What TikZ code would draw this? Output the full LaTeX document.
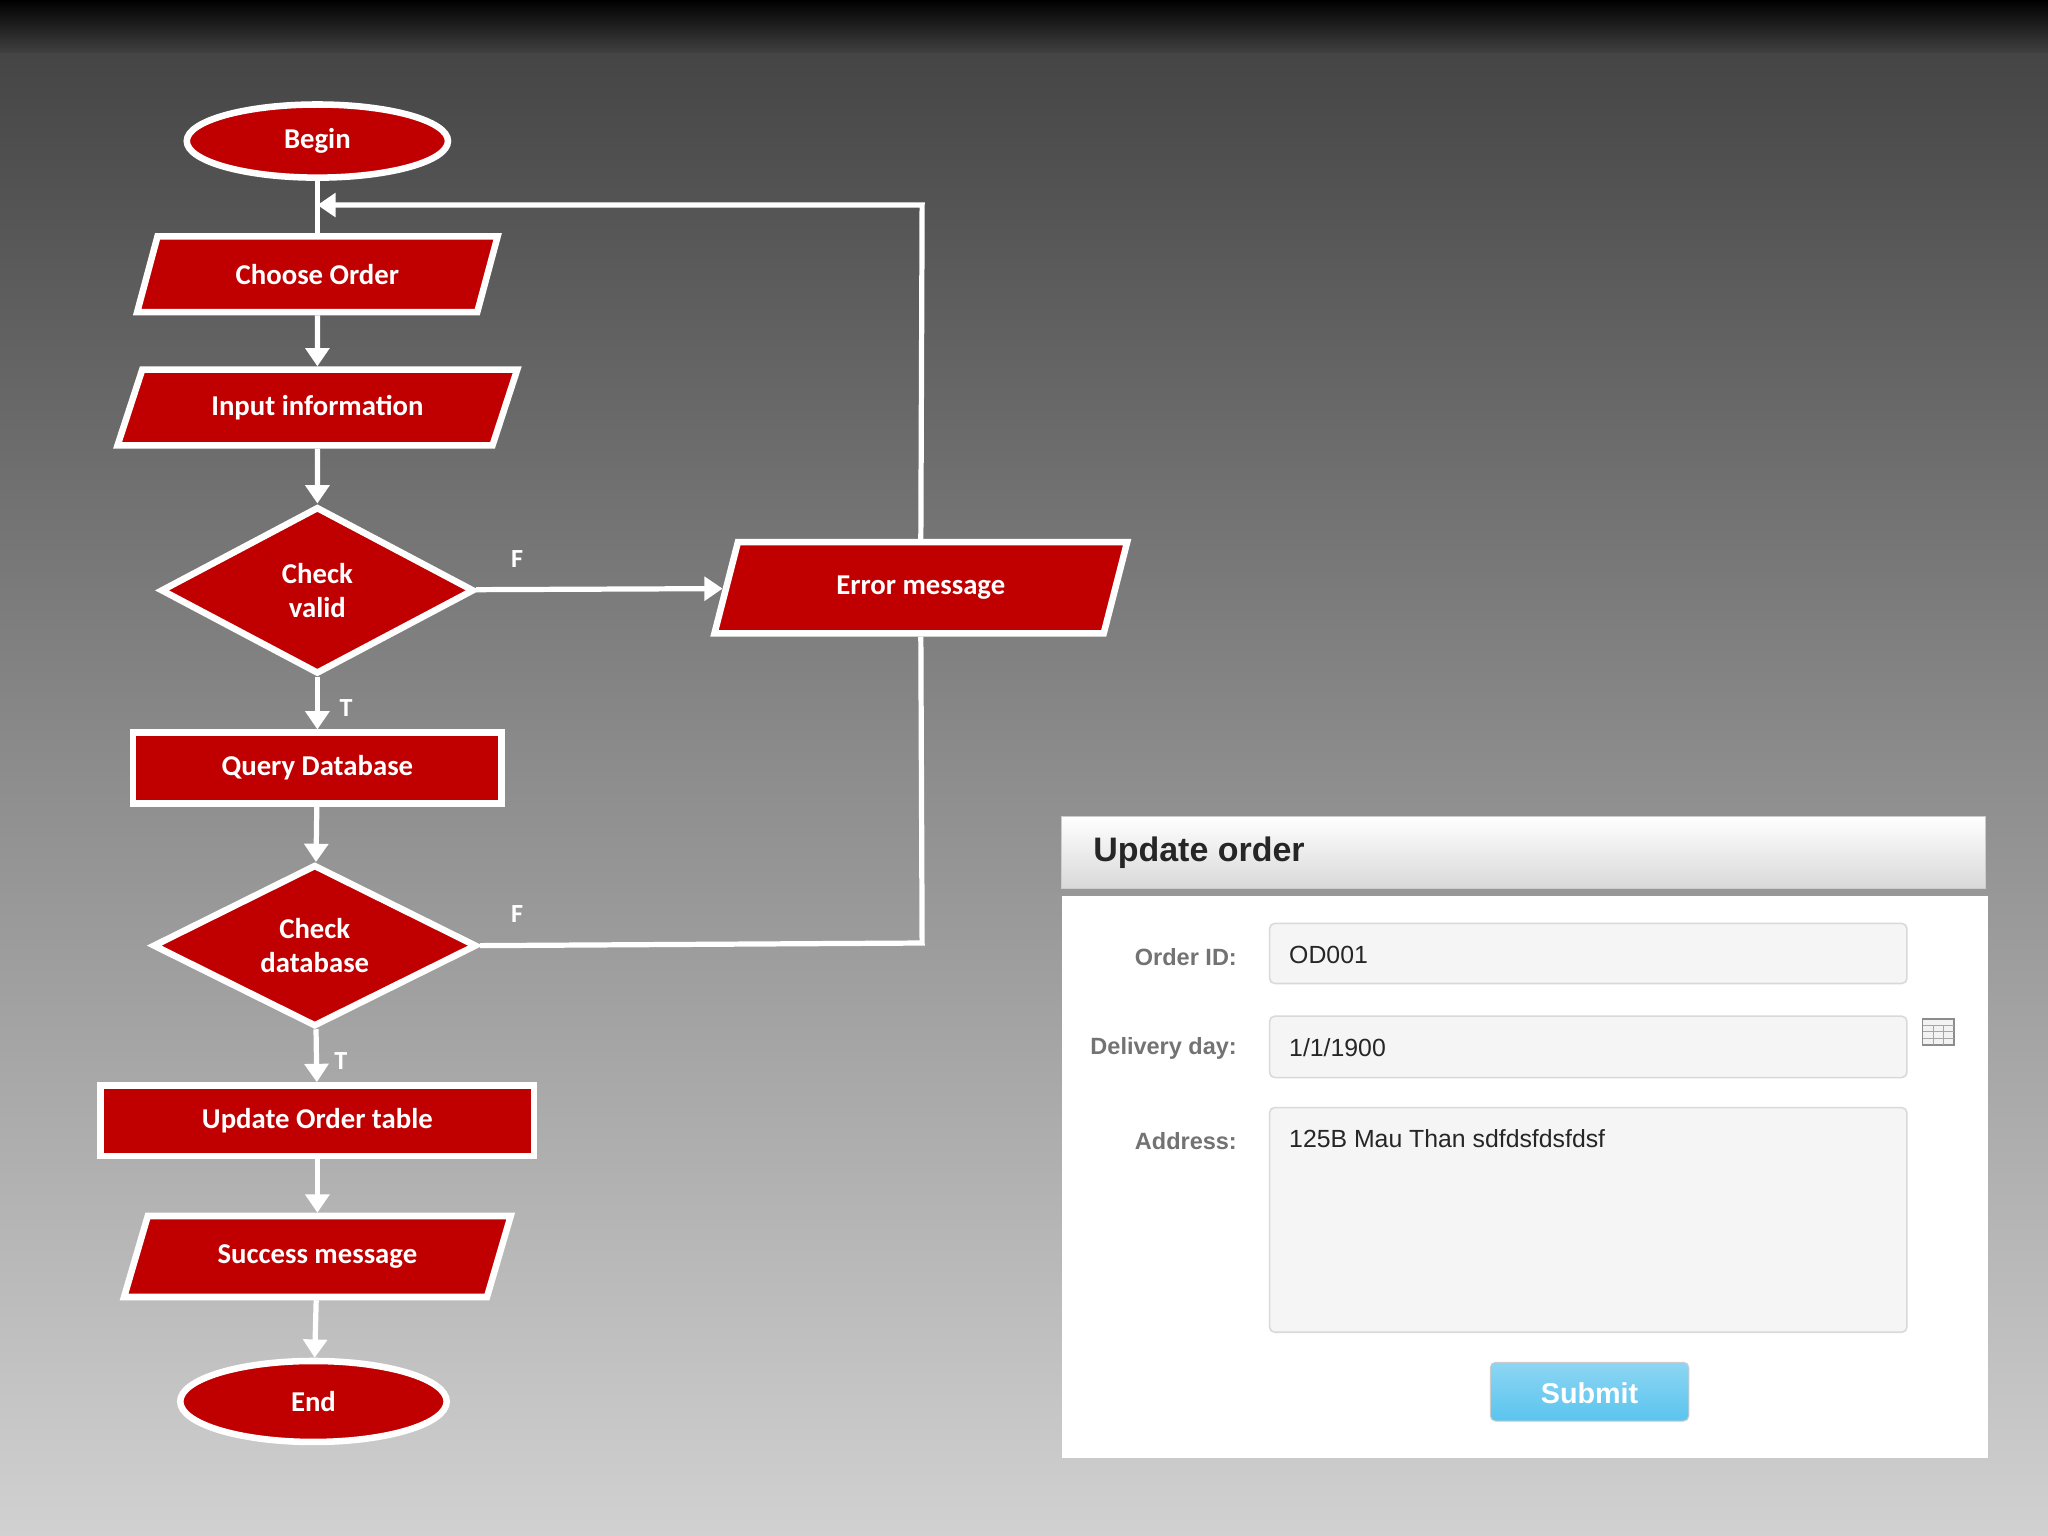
\documentclass[tikz,border=0pt]{standalone}
\usepackage{fontspec}
\setmainfont{Carlito}
\newfontfamily\formfont{Liberation Sans}
\usetikzlibrary{shapes.geometric,arrows.meta}
\definecolor{fred}{HTML}{C00000}
\begin{document}
\begin{tikzpicture}[x=0.5pt,y=-0.5pt,
  fc/.style={fill=fred,draw=white,line width=2.5pt,text=white,font=\bfseries\fontsize{11}{13}\selectfont,align=center,inner sep=0pt},
  term/.style={fc,ellipse,minimum width=100pt,minimum height=28pt},
  io/.style={fc,trapezium,trapezium left angle=45,trapezium right angle=135,trapezium stretches body,minimum height=29pt},
  proc/.style={fc,rectangle,minimum height=27pt},
  dec/.style={fc,diamond,aspect=1.9},
  conn/.style={draw=white,line width=2pt,-{Triangle[length=7pt,width=9pt]}},
  line/.style={draw=white,line width=2pt},
  lbl/.style={text=white,font=\bfseries\fontsize{10}{12}\selectfont},
  flbl/.style={font=\formfont\bfseries\fontsize{9}{11}\selectfont,text=black!55,anchor=east},
  field/.style={fill=black!4,draw=black!15,line width=0.6pt,rounded corners=2pt},
  ftxt/.style={font=\formfont\fontsize{9.5}{11}\selectfont,text=black!85,anchor=west}]
\useasboundingbox (0,0) rectangle (1568,1176);
\shade[top color=black!75,bottom color=black!18,middle color=black!45] (0,0) rectangle (1568,1176);
\shade[top color=black,bottom color=black!75] (0,0) rectangle (1568,40);

\node[term] (begin) at (243,108) {Begin};
\node[io,minimum width=138pt] (choose) at (243,210) {Choose Order};
\node[io,minimum width=153pt] (input) at (243,312) {Input information};
\node[dec,minimum width=120pt,minimum height=64pt] (valid) at (243,452) {Check\\valid};
\node[io,minimum width=158pt,minimum height=35pt] (err) at (705,450) {Error message};
\node[proc,minimum width=141pt] (query) at (243,588) {Query Database};
\node[dec,minimum width=124pt,minimum height=62pt] (cdb) at (241,724) {Check\\database};
\node[proc,minimum width=166pt] (upd) at (243,858) {Update Order table};
\node[io,minimum width=148pt,minimum height=31pt] (succ) at (243,962) {Success message};
\node[term,minimum width=102pt,minimum height=31pt] (end) at (240,1073) {End};

\draw[line] (begin) -- (choose);
\draw[conn] (choose) -- (input);
\draw[conn] (input) -- (valid);
\draw[conn] (valid) -- (err);
\draw[conn] (valid) -- (query);
\draw[conn] (query) -- (cdb);
\draw[conn] (cdb) -- (upd);
\draw[conn] (upd) -- (succ);
\draw[conn] (succ) -- (end);
\coordinate (c1) at (706,722);
\coordinate (c2) at (706,157);
\coordinate (c3) at (243,157);
\draw[line] (cdb.east) -- (c1) -- (err.south);
\draw[conn] (err.north) -- (c2) -- (c3);
\node[lbl] (f1) at (396,428) {F};
\node[lbl] (f2) at (396,700) {F};
\node[lbl] (t1) at (265,542) {T};
\node[lbl] (t2) at (261,812) {T};

% form
\shade[top color=white,bottom color=black!15,draw=black!20] (813,625) rectangle (1520,680);
\node[font=\formfont\bfseries\fontsize{13}{15}\selectfont,anchor=west,text=black!85] (hdr) at (830,653) {Update order};
\fill[white] (813,686) rectangle (1522,1116);
\node[flbl] (l1) at (954,733) {Order ID:};
\node[flbl] (l2) at (954,803) {Delivery day:};
\node[flbl] (l3) at (954,874) {Address:};
\draw[field] (972,707) rectangle (1460,753);
\draw[field] (972,778) rectangle (1460,825);
\draw[field] (972,848) rectangle (1460,1020);
\node[ftxt] (v1) at (980,731) {OD001};
\node[ftxt] (v2) at (980,802) {1/1/1900};
\node[ftxt] (v3) at (980,872) {125B Mau Than sdfdsfdsfdsf};
\draw[black!45,fill=black!5,line width=0.6pt] (1472,780) rectangle (1496,800);
\draw[black!35,line width=0.4pt] (1472,785) -- (1496,785) (1472,790)--(1496,790) (1472,795)--(1496,795) (1480,785)--(1480,800) (1488,785)--(1488,800);
\definecolor{btn}{HTML}{5BC4EE}
\shade[top color=btn!70!white,bottom color=btn,draw=black!20,rounded corners=2pt] (1141,1043) rectangle (1293,1088);
\node[font=\formfont\bfseries\fontsize{11}{13}\selectfont,text=white] (sub) at (1217,1067) {Submit};
\end{tikzpicture}
\end{document}
